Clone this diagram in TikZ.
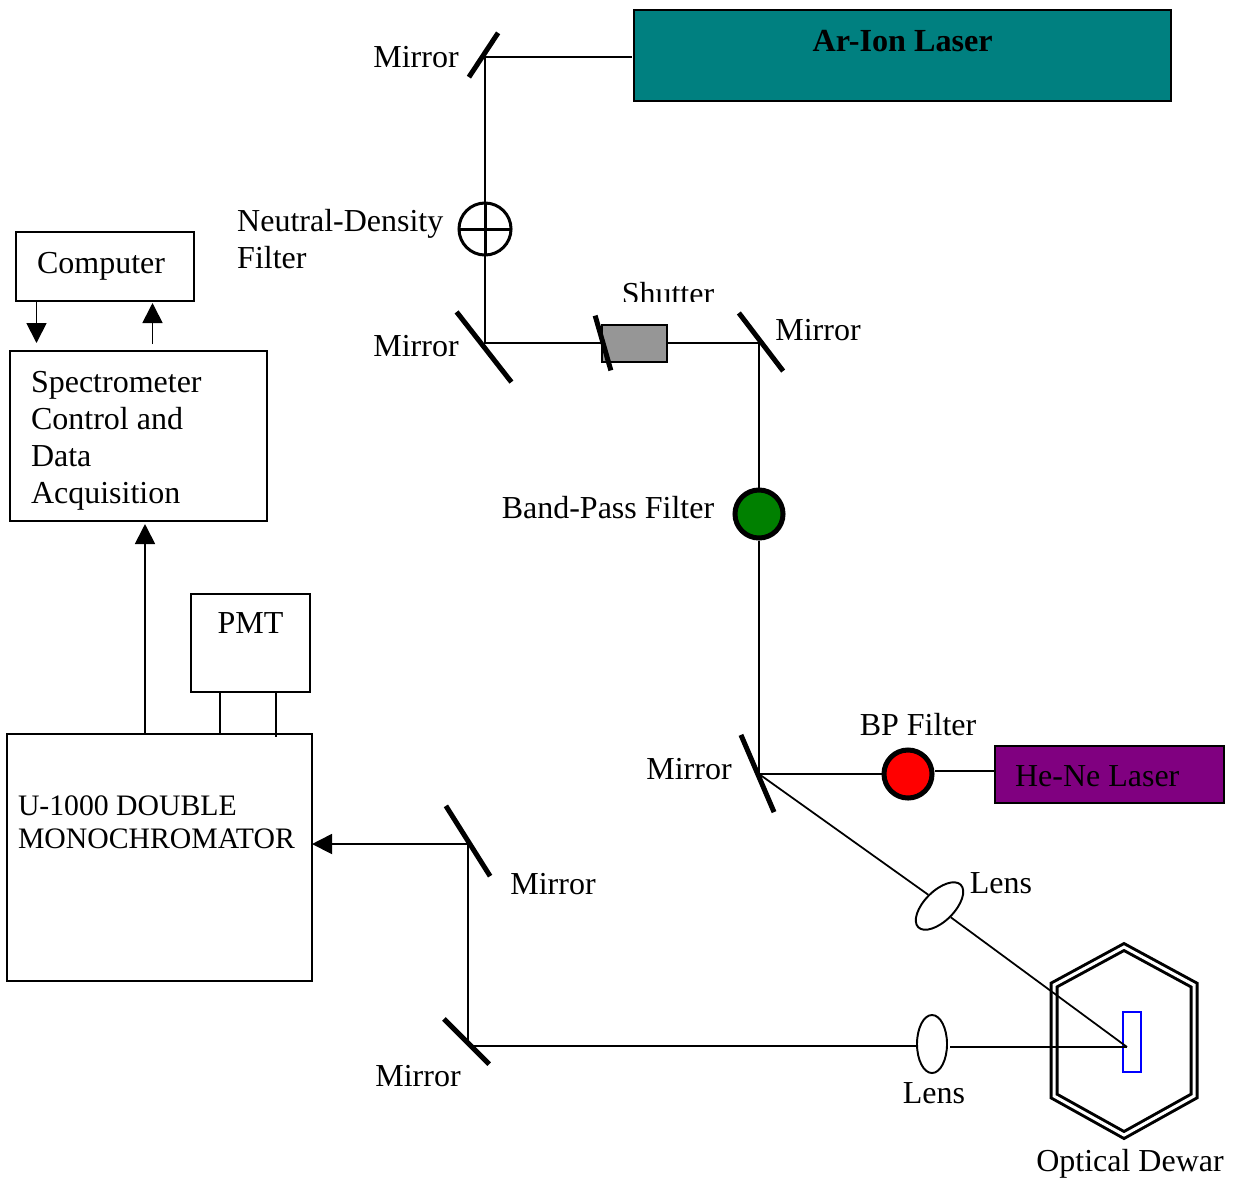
\documentclass[tikz,border=0pt]{standalone}
\usepackage{fontspec}
\setmainfont{Liberation Serif}
\usepackage{xcolor}
\usetikzlibrary{arrows.meta, shapes.geometric, positioning}

\definecolor{arlasercolor}{RGB}{0,128,128}
\definecolor{henecolor}{RGB}{128,0,128}
\definecolor{shuttercolor}{RGB}{150,150,150}

\begin{document}
\begin{tikzpicture}[
    x=0.01cm, y=-0.01cm,
    every node/.style={font=\fontsize{9.1}{10.5}\selectfont},
    plainbox/.style={rectangle, draw=black, line width=0.55pt, anchor=north west, outer sep=0pt, inner ysep=0pt, inner xsep=0.2cm, align=flush left},
    labeltext/.style={anchor=base, inner sep=0pt, align=left},
    mirrorbar/.style={rectangle, fill=black, inner sep=0pt, minimum height=0.05cm},
    beam/.style={line width=0.5pt},
    signal/.style={line width=0.5pt, -{Triangle[length=0.2cm, width=0.2cm]}},
    lens/.style={ellipse, draw=black, line width=0.55pt, inner sep=0pt},
    colordisc/.style={circle, draw=black, line width=0.05cm, inner sep=0pt, minimum size=0.48cm}
]

\useasboundingbox (0,0) rectangle (1234,1178);

% Dewar goes first, the beams cross over it
\draw[line width=0.03cm, double, double distance=0.03cm, line join=miter]
    (1124,947) -- (1194,985) -- (1194,1096) -- (1124,1135) -- (1054,1096) -- (1054,985) -- cycle;

\node[plainbox, fill=arlasercolor, minimum width=5.37cm, minimum height=0.91cm, text depth=0.38cm, text height=0.29cm, inner xsep=0pt, text width=5.37cm, align=flush center] (ArLaser) at (634,10) {\fontsize{9.15}{10.5}\selectfont\textbf{Ar-Ion Laser}};
\node[plainbox, minimum width=1.78cm, minimum height=0.69cm, inner xsep=0.21cm, text width=1.36cm] (Computer) at (16,232) {Computer};
\node[plainbox, minimum width=2.57cm, minimum height=1.70cm, inner xsep=0.21cm, text width=2.15cm] (Spectrometer) at (10,351) {\rule{0pt}{0.31cm}Spectrometer\\Control and\\Data\\Acquisition};
\node[plainbox, minimum width=1.19cm, minimum height=0.98cm, inner xsep=0pt, text width=1.19cm, align=flush center] (PMT) at (191,594) {PMT\\[0.03cm]\mbox{}};
\node[plainbox, minimum width=3.05cm, minimum height=2.47cm, inner xsep=0.11cm, text width=2.83cm, font=\fontsize{8.45}{9.4}\selectfont] (Mono) at (7,734) {U-1000 DOUBLE\\MONOCHROMATOR\\[0.38cm]\mbox{}};
\node[plainbox, fill=henecolor, minimum width=2.29cm, minimum height=0.57cm, text width=1.89cm, text height=0.30cm, text depth=0.07cm] (HeNe) at (995,746) {He-Ne Laser};

\node[rectangle, draw=black, line width=0.55pt, fill=shuttercolor, inner sep=0pt, outer sep=0pt, minimum width=0.65cm, minimum height=0.375cm] (ShutterBody) at (634.5,343.5) {};

\node[circle, draw=black, line width=0.03cm, inner sep=0pt, outer sep=0pt, minimum size=0.52cm] (NDFilter) at (485,229) {};
\node[colordisc, fill=green!50!black] (BandPass) at (759,514) {};
\node[colordisc, fill=red] (BPFilter) at (908,774) {};

\node[lens, rotate=45, minimum width=0.6cm, minimum height=0.3cm] (LensTop) at (939.5,906) {};
\node[lens, minimum width=0.3cm, minimum height=0.58cm] (LensBottom) at (932,1044) {};
\node[rectangle, draw=blue, line width=0.5pt, inner sep=0pt, minimum width=0.18cm, minimum height=0.6cm] (Sample) at (1132,1042) {};

\node[mirrorbar, rotate=56.6, minimum width=0.53cm] (MirrorA) at (483.5,55) {};
\node[mirrorbar, rotate=-52, minimum width=0.89cm] (MirrorB) at (484,347) {};
\node[mirrorbar, rotate=-74, minimum width=0.57cm] (ShutterBlade) at (603,343) {};
\node[mirrorbar, rotate=-52.7, minimum width=0.73cm] (MirrorC) at (761,342) {};
\node[mirrorbar, rotate=-66.8, minimum width=0.84cm] (MirrorD) at (757.5,773.5) {};
\node[mirrorbar, rotate=-57.8, minimum width=0.83cm] (MirrorE) at (468,841) {};
\node[mirrorbar, rotate=-45, minimum width=0.64cm] (MirrorF) at (466.5,1041.5) {};

\coordinate (ComputerOut) at (36.5,343);
\coordinate (ComputerIn) at (152.5,344);
\coordinate (SpecIn) at (145,524);
\coordinate (TapA) at (220,734);
\coordinate (TapB) at (276,737);
\coordinate (MonoIn) at (312,844);
\coordinate (TurnA) at (485,57);
\coordinate (TurnB) at (485,343);
\coordinate (TurnC) at (759,343);
\coordinate (TurnD) at (759,774);
\coordinate (TurnE) at (468,844);
\coordinate (TurnF) at (468,1046);
\coordinate (SampleSpot) at (1127,1047);
\coordinate (HeNeTap) at (995,771);

% beam path
\draw[beam] (ArLaser.west |- TurnA) ++(-2,0) -- (TurnA) -- (NDFilter.north);
\draw[line width=0.03cm] (NDFilter.north) -- (NDFilter.south);
\draw[line width=0.03cm] (NDFilter.west) -- (NDFilter.east);
\draw[beam] (NDFilter.south) -- (TurnB) -- (ShutterBlade.center |- TurnB);
\draw[beam] (ShutterBody.east |- TurnC) -- (TurnC) -- (BandPass.north);
\draw[beam] (BandPass.south) -- (TurnD) -- (BPFilter.west);
\draw[beam] (BPFilter.east |- HeNeTap) -- (HeNeTap);
\draw[beam] (TurnD) -- (LensTop.north);
\draw[beam] (LensTop.south) -- (SampleSpot);
\draw[beam] (TurnF) -- (LensBottom.west |- TurnF);
\draw[line width=0.75pt] (950,1047) -- (SampleSpot);
\draw[beam] (TurnF) -- (TurnE);
\draw[signal] (TurnE) -- (MonoIn);

% control side
\draw[signal] (Computer.south -| ComputerOut) -- (ComputerOut);
\draw[signal] (ComputerIn) -- ++(0,-41);
\draw[signal] (Mono.north -| SpecIn) -- (SpecIn);
\draw[beam] (PMT.south -| TapA) -- (TapA);
\draw[beam] (PMT.south -| TapB) -- (TapB);

\node[labeltext] (MirrorALabel) at (416,67) {Mirror};
\node[labeltext] (MirrorBLabel) at (416,356) {Mirror};
\node[labeltext] (MirrorCLabel) at (818,340) {Mirror};
\node[labeltext] (MirrorDLabel) at (689,779) {Mirror};
\node[labeltext] (MirrorELabel) at (553,894) {Mirror};
\node[labeltext] (MirrorFLabel) at (418,1086) {Mirror};
\node[labeltext, anchor=base west] (NDLabel) at (236.5,268) {Neutral-Density\\Filter};
\begin{scope}
    \clip (600,270) rectangle (730,301.5);
    \node[labeltext] (ShutterLabel) at (668,304) {Shutter};
\end{scope}
\node[labeltext] (BandPassLabel) at (608,518) {Band-Pass Filter};
\node[labeltext] (BPFilterLabel) at (918,735) {BP Filter};
\node[labeltext] (LensTopLabel) at (1001,893) {Lens};
\node[labeltext] (LensBottomLabel) at (934,1103) {Lens};
\node[labeltext] (DewarLabel) at (1130,1171) {Optical Dewar};

\end{tikzpicture}
\end{document}
